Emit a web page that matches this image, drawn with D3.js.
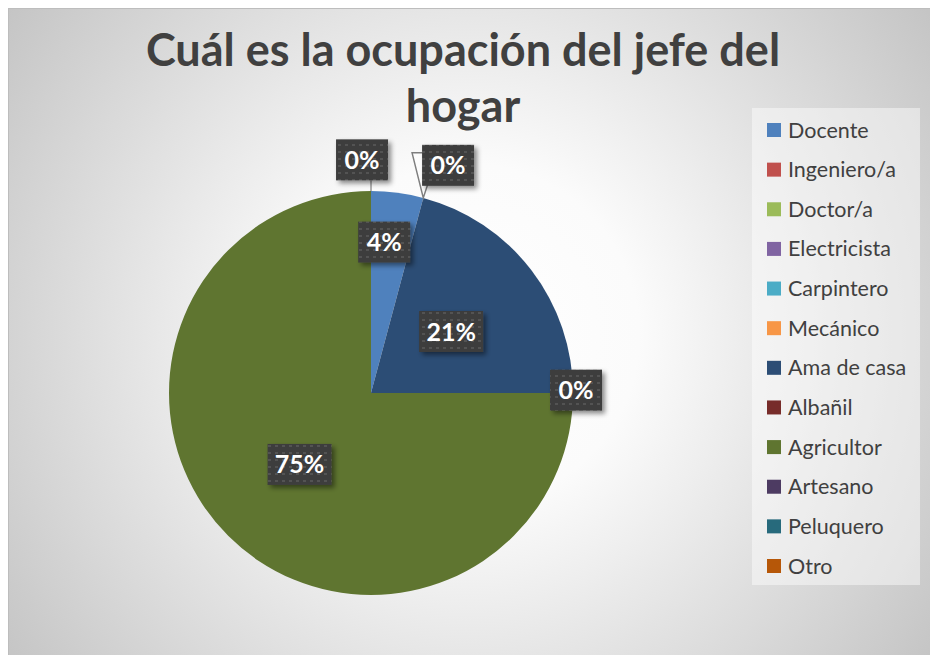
<!DOCTYPE html>
<html>
<head>
<meta charset="utf-8">
<script src="https://cdn.jsdelivr.net/npm/d3@7"></script>
<style>
  body { margin: 0; background: #ffffff; }
  svg { display: block; font-family: Lato, "Open Sans", sans-serif; }
</style>
</head>
<body>
<div id="svganchor"></div>
<script>
/*
------------------------------
DATA: categories, counts and colours
------------------------------
*/
let categories = ["Docente", "Ingeniero/a", "Doctor/a", "Electricista", "Carpintero", "Mecánico",
                  "Ama de casa", "Albañil", "Agricultor", "Artesano", "Peluquero", "Otro"];
let counts = [1, 0, 0, 0, 0, 0, 5, 0, 18, 0, 0, 0];
let colors = ["#4F81BD", "#C0504D", "#9BBB59", "#8064A2", "#4BACC6", "#F79646",
              "#2C4D75", "#772C2A", "#5F7530", "#4D3B62", "#276A7C", "#B65708"];
let titleLines = ["Cuál es la ocupación del jefe del", "hogar"];

let width = 930;
let height = 655;

let svg = d3.select("#svganchor")
    .append("svg")
    .attr("width", width)
    .attr("height", height);

let defs = svg.append("defs");

// radial background like the office chart area
let grad = defs.append("radialGradient")
    .attr("id", "bg")
    .attr("gradientUnits", "userSpaceOnUse")
    .attr("cx", 468).attr("cy", 335).attr("r", 570);
grad.append("stop").attr("offset", 0).attr("stop-color", "#ffffff");
grad.append("stop").attr("offset", 0.3).attr("stop-color", "#fbfbfb");
grad.append("stop").attr("offset", 1).attr("stop-color", "#c4c4c4");

// dotted dark texture of the data labels
let pat = defs.append("pattern")
    .attr("id", "dots")
    .attr("patternUnits", "userSpaceOnUse")
    .attr("width", 7).attr("height", 7);
pat.append("rect").attr("width", 7).attr("height", 7).attr("fill", "#3c3c3c");
pat.append("rect").attr("x", 2).attr("y", 3).attr("width", 3).attr("height", 2).attr("fill", "#525252");

let shadow = defs.append("filter")
    .attr("id", "shadow")
    .attr("x", "-30%").attr("y", "-30%").attr("width", "160%").attr("height", "160%");
shadow.append("feDropShadow")
    .attr("dx", 3).attr("dy", 3).attr("stdDeviation", 2.5)
    .attr("flood-color", "#000").attr("flood-opacity", 0.45);

/*
------------------------------
chart area + title
------------------------------
*/
svg.append("rect")
    .attr("x", 8.5).attr("y", 8.5)
    .attr("width", width).attr("height", height)
    .attr("fill", "url(#bg)")
    .attr("stroke", "#bdbdbd");

svg.append("g").selectAll("text")
    .data(titleLines)
    .join("text")
    .attr("x", 463)
    .attr("y", (d, i) => 66 + i * 56)
    .attr("text-anchor", "middle")
    .attr("font-size", 45)
    .attr("font-weight", 700)
    .attr("fill", "#404040")
    .text(d => d);

/*
------------------------------
pie
------------------------------
*/
let cx = 371, cy = 393, radius = 202;
let data = categories.map((c, i) => ({name: c, count: counts[i], color: colors[i]}));
let total = d3.sum(counts);
let fmt = d3.format(".0%");

let pie = d3.pie().sort(null).value(d => d.count);
let arcs = pie(data);
let arc = d3.arc().innerRadius(0).outerRadius(radius);

let pieG = svg.append("g").attr("transform", `translate(${cx},${cy})`);

pieG.selectAll("path")
    .data(arcs.filter(d => d.data.count > 0))
    .join("path")
    .attr("d", arc)
    .attr("fill", d => d.data.color);

// label placement (radius factor + angle nudge in degrees), only labels that show
let spots = {
  "Docente": {k: 0.75, da: -2.5},
  "Ingeniero/a": {k: 1.19, da: 3.7, callout: true},
  "Ama de casa": {k: 0.5, da: 0},
  "Albañil": {k: 1.015, da: -0.8},
  "Agricultor": {k: 0.5, da: 0},
  "Otro": {k: 1.155, da: -2.2, leader: true}
};

let labelArcs = arcs.filter(d => spots[d.data.name]);

labelArcs.forEach(function(d) {
  let s = spots[d.data.name];
  let a = (d.data.count > 0 ? (d.startAngle + d.endAngle) / 2 : d.startAngle) + s.da * Math.PI / 180;
  let lx = Math.sin(a) * radius * s.k;
  let ly = -Math.cos(a) * radius * s.k;
  let txt = fmt(d.data.count / total);
  let boxW = txt.length * 12 + 28;
  let boxH = 41;
  let bx = lx - boxW / 2, by = ly - boxH / 2;
  let edge = [Math.sin(d.startAngle) * radius, -Math.cos(d.startAngle) * radius];

  if (s.callout) {
    pieG.append("path")
      .attr("d", `M${bx - 10},${by + 8} L${bx + 16},${by + 8} L${edge[0]},${edge[1]} Z`)
      .attr("fill", "#ffffff")
      .attr("fill-opacity", 0.6)
      .attr("stroke", "#7f7f7f")
      .attr("stroke-width", 1.5);
  }
  if (s.leader) {
    pieG.append("line")
      .attr("x1", edge[0]).attr("y1", edge[1])
      .attr("x2", edge[0]).attr("y2", by + boxH)
      .attr("stroke", "#7f7f7f")
      .attr("stroke-width", 1.2);
  }

  pieG.append("rect")
    .attr("x", bx).attr("y", by)
    .attr("width", boxW).attr("height", boxH)
    .attr("fill", "url(#dots)")
    .attr("filter", "url(#shadow)");

  pieG.append("text")
    .attr("x", lx).attr("y", ly + 9)
    .attr("text-anchor", "middle")
    .attr("font-size", 25)
    .attr("font-weight", 700)
    .attr("fill", "#ffffff")
    .text(txt);
});

/*
------------------------------
legend
------------------------------
*/
let legendY = d3.scalePoint().domain(categories).range([130, 566]);

svg.append("rect")
    .attr("x", 752).attr("y", 108)
    .attr("width", 168).attr("height", 477)
    .attr("fill", "#ffffff")
    .attr("fill-opacity", 0.45);

let leg = svg.append("g").selectAll("g")
    .data(data)
    .join("g")
    .attr("transform", d => `translate(767,${legendY(d.name)})`);

leg.append("rect")
    .attr("x", 0).attr("y", -7)
    .attr("width", 14).attr("height", 14)
    .attr("fill", d => d.color);

leg.append("text")
    .attr("x", 21).attr("y", 7.5)
    .attr("font-size", 21.5)
    .attr("fill", "#404040")
    .text(d => d.name);
</script>
</body>
</html>
